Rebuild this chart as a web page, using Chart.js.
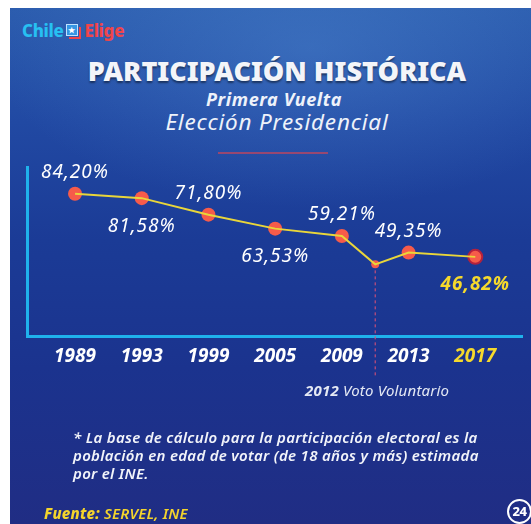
<!DOCTYPE html>
<html>
<head>
<meta charset="utf-8">
<script src="https://cdn.jsdelivr.net/npm/chart.js@4.4.1/dist/chart.umd.min.js"></script>
<style>
  html, body { margin: 0; padding: 0; background: #fff; }
  body { width: 531px; height: 524px; position: relative; overflow: hidden; font-family: "Noto Sans", sans-serif; }
  #panel {
    position: absolute; left: 10px; top: 8px; width: 521px; height: 516px;
    background:
      radial-gradient(ellipse 320px 160px at 300px 40px, rgba(90, 150, 220, 0.35), rgba(90, 150, 220, 0) 100%),
      linear-gradient(180deg, #2b5cae 0%, #2149a3 22%, #1b3b96 45%, #1b338e 70%, #202d84 100%);
  }
  #chart { position: absolute; left: 0; top: 0; }
  .txt { position: absolute; color: #fff; white-space: nowrap; }
  #logo { left: 22px; top: 21px; font-weight: 800; font-size: 17px; line-height: 20px; letter-spacing: -0.3px; }
  #logo .c { color: #27c0f2; }
  #logo .e { color: #f0454a; }
  #logo .icon { display: inline-block; position: relative; width: 17px; height: 15px; margin: 0 2px 0 2px; vertical-align: -2px; }
  #logo .icon .r { position: absolute; left: 3px; top: 3px; width: 12px; height: 12px; border-right: 2px solid #f0454a; border-bottom: 2px solid #f0454a; box-sizing: border-box; }
  #logo .icon .b { position: absolute; left: 0; top: 0; width: 12px; height: 12px; background: #3596e4; border: 1px solid #bfe3ff; box-sizing: border-box; color: #fff; font-size: 8px; line-height: 10px; text-align: center; letter-spacing: 0; }
  #title { left: 277px; top: 56px; transform: translateX(-50%); font-size: 27px; font-weight: 900; line-height: 30px;
    color: #f3f5f9; text-shadow: 0 2px 2px rgba(0, 0, 0, 0.45); }
  #sub1 { left: 274px; top: 88px; transform: translateX(-50%); font-size: 18px; font-weight: 700; font-style: italic; line-height: 22px; letter-spacing: 0.6px; color: #eef2fa; }
  #sub2 { left: 277px; top: 108px; transform: translateX(-50%); font-size: 22.5px; font-style: italic; line-height: 28px; letter-spacing: 0.8px; color: #eef2fa; }
  #rule { position: absolute; left: 218px; top: 152px; width: 110px; height: 2px; background: rgba(190, 70, 95, 0.75); }
  #vol { left: 305px; top: 380px; font-size: 15px; font-style: italic; line-height: 20px; letter-spacing: 0.2px; color: #e4e9f4; }
  #vol b { font-weight: 700; }
  #note { left: 73px; top: 428px; font-size: 15px; font-style: italic; font-weight: 600; line-height: 18px; letter-spacing: 0.3px; color: #f2f4fa; }
  #src { left: 44px; top: 502px; font-size: 15px; font-style: italic; font-weight: 600; line-height: 22px; letter-spacing: 0.2px; color: #f4d42c; }
  #src b { font-weight: 800; }
  #c24 { position: absolute; left: 507px; top: 499px; width: 21px; height: 21px; border: 2px solid #fff; border-radius: 50%;
    color: #fff; font-size: 13px; font-weight: 800; line-height: 21px; text-align: center; letter-spacing: -0.5px; }
</style>
</head>
<body>
<div id="panel"></div>
<div class="txt" id="logo"><span class="c">Chile</span><span class="icon"><span class="r"></span><span class="b">★</span></span><span class="e">Elige</span></div>
<div class="txt" id="title">PARTICIPACIÓN HISTÓRICA</div>
<div class="txt" id="sub1">Primera Vuelta</div>
<div class="txt" id="sub2">Elección Presidencial</div>
<div id="rule"></div>
<canvas id="chart" width="531" height="524"></canvas>
<div class="txt" id="vol"><b>2012</b> Voto Voluntario</div>
<div class="txt" id="note">* La base de cálculo para la participación electoral es la<br>población en edad de votar (de 18 años y más) estimada<br>por el INE.</div>
<div class="txt" id="src"><b>Fuente:</b> SERVEL, INE</div>
<div id="c24">24</div>
<script>
// election years and first-round turnout (%)
const years = [1989, 1993, 1999, 2005, 2009, 2012, 2013, 2017];
const turnout = [84.20, 81.58, 71.80, 63.53, 59.21, 42.40, 49.35, 46.82];
// position of each year along the axis (2012 sits between 2009 and 2013)
const slots = [0, 1, 2, 3, 4, 4.5, 5, 6];
// labelled ticks on the x axis
const tickLabels = ['1989', '1993', '1999', '2005', '2009', '2013', '2017'];
const tickSlots = [0, 1, 2, 3, 4, 5, 6];

const voluntaryYear = 2012;
const highlightYear = 2017;

const WHITE = '#ffffff';
const YELLOW = '#f5d92c';
const DOT = '#f65b4a';
const LINE = '#e9d63a';
const AXIS = '#1fb2ec';

const points = years.map((y, i) => ({ x: slots[i], y: turnout[i] }));

function pctLabel(v) {
  return v.toFixed(2).replace('.', ',') + '%';
}

const pointLabels = {
  id: 'pointLabels',
  afterDatasetsDraw(chart) {
    const meta = chart.getDatasetMeta(1);
    const ctx = chart.ctx;
    ctx.save();
    ctx.textAlign = 'center';
    ctx.textBaseline = 'middle';
    meta.data.forEach((pt, i) => {
      if (years[i] === voluntaryYear) return;
      const above = i % 2 === 0;
      const hl = years[i] === highlightYear;
      ctx.font = (hl ? 'italic 700 ' : 'italic 400 ') + '19px "Noto Sans"';
      ctx.letterSpacing = '1px';
      ctx.fillStyle = hl ? YELLOW : WHITE;
      ctx.fillText(pctLabel(turnout[i]), pt.x, above ? pt.y - 21 : pt.y + 28);
    });
    ctx.restore();
  }
};

// dashed marker dropping from the 2012 point to below the axis
const voluntaryLine = {
  id: 'voluntaryLine',
  beforeDatasetsDraw(chart) {
    const i = years.indexOf(voluntaryYear);
    const x = chart.scales.x.getPixelForValue(slots[i]);
    const y = chart.scales.y.getPixelForValue(turnout[i]);
    const ctx = chart.ctx;
    ctx.save();
    ctx.strokeStyle = 'rgba(215, 80, 120, 0.9)';
    ctx.lineWidth = 1.2;
    ctx.setLineDash([3, 3]);
    ctx.beginPath();
    ctx.moveTo(x, y);
    ctx.lineTo(x, chart.scales.x.top + 42);
    ctx.stroke();
    ctx.restore();
  }
};

new Chart(document.getElementById('chart'), {
  type: 'line',
  data: {
    datasets: [
      {
        data: points,
        borderColor: LINE,
        borderWidth: 2,
        pointRadius: 0,
        tension: 0,
        order: 0,
        clip: false
      },
      {
        data: points,
        showLine: false,
        pointRadius: (c) => (years[c.dataIndex] === voluntaryYear ? 4 : 7),
        pointBackgroundColor: DOT,
        pointBorderColor: (c) => (years[c.dataIndex] === highlightYear ? '#b3213d' : DOT),
        pointBorderWidth: (c) => (years[c.dataIndex] === highlightYear ? 2 : 0),
        order: 1,
        clip: false
      }
    ]
  },
  options: {
    responsive: false,
    animation: false,
    events: [],
    layout: { padding: { left: 27, right: 6, top: 167, bottom: 158 } },
    plugins: { legend: { display: false }, tooltip: { enabled: false } },
    scales: {
      x: {
        type: 'linear',
        min: -0.72,
        max: 6.7,
        grid: { display: false, drawTicks: false },
        border: { display: true, color: AXIS, width: 3 },
        afterBuildTicks: (axis) => { axis.ticks = tickSlots.map((v) => ({ value: v })); },
        afterFit: (axis) => { axis.height = 30; },
        ticks: {
          autoSkip: false,
          maxRotation: 0,
          padding: 9,
          font: { family: '"Noto Sans"', size: 19, weight: 'bold', style: 'italic' },
          color: (c) => (tickLabels[tickSlots.indexOf(c.tick.value)] === String(highlightYear) ? YELLOW : WHITE),
          callback: (v) => tickLabels[tickSlots.indexOf(v)]
        }
      },
      y: {
        min: 0,
        max: 100,
        grid: { display: false, drawTicks: false },
        border: { display: true, color: AXIS, width: 3 },
        ticks: { display: false },
        afterFit: (axis) => { axis.width = 0; }
      }
    }
  },
  plugins: [voluntaryLine, pointLabels]
});
</script>
</body>
</html>
